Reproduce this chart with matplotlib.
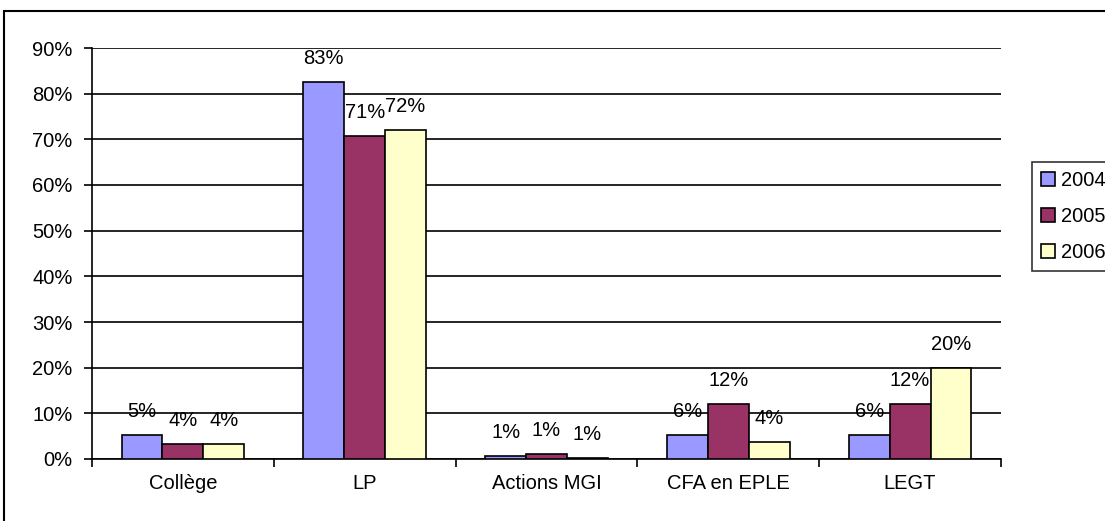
import numpy as np
import matplotlib.pyplot as plt
from matplotlib.patches import Rectangle
from matplotlib.ticker import PercentFormatter

plt.rcParams['font.family'] = ['Liberation Sans', 'DejaVu Sans']

# Data
categories = ['Collège', 'LP', 'Actions MGI', 'CFA en EPLE', 'LEGT']
years = ['2004', '2005', '2006']
v2004 = [5.3, 82.5, 0.7, 5.3, 5.3]
v2005 = [3.3, 70.8, 1.2, 12.0, 12.0]
v2006 = [3.3, 72.0, 0.3, 3.7, 20.0]
labels2004 = ['5%', '83%', '1%', '6%', '6%']
labels2005 = ['4%', '71%', '1%', '12%', '12%']
labels2006 = ['4%', '72%', '1%', '4%', '20%']
colors = ['#9999FF', '#993366', '#FFFFCC']

fs = 14.5

fig = plt.figure(figsize=(11.05, 5.21), dpi=100)
ax = fig.add_axes([92 / 1105, 62 / 521, 909 / 1105, 411 / 521])

# outer chart border
fig.patches.append(Rectangle((4 / 1105, -0.1), 1.2, (510 / 521) + 0.1,
                             transform=fig.transFigure, fill=False,
                             edgecolor='black', linewidth=1.5, zorder=0))

x = np.arange(len(categories))
w = 0.225
series = [v2004, v2005, v2006]
labs = [labels2004, labels2005, labels2006]
for i, (vals, lab) in enumerate(zip(series, labs)):
    bars = ax.bar(x + (i - 1) * w, vals, w, color=colors[i], edgecolor='black',
                  linewidth=1.2, label=years[i], zorder=3)
    for b, t in zip(bars, lab):
        ax.annotate(t, (b.get_x() + b.get_width() / 2, b.get_height()),
                    xytext=(0, 10), textcoords='offset points',
                    ha='center', va='bottom', fontsize=fs, zorder=4)

ax.set_ylim(0, 90)
ax.set_yticks(np.arange(0, 91, 10))
ax.yaxis.set_major_formatter(PercentFormatter(decimals=0))
ax.yaxis.grid(True, color='black', linewidth=1.2, zorder=0)
ax.set_xlim(-0.5, len(categories) - 0.5)
ax.set_xticks(x)
ax.set_xticklabels(categories)
ax.set_xticks(np.arange(-0.5, len(categories), 1), minor=True)
ax.tick_params(axis='x', which='major', length=0, pad=11, labelsize=fs)
ax.tick_params(axis='x', which='minor', length=6, width=1.2, direction='out')
ax.tick_params(axis='y', length=6, width=1.2, labelsize=fs, pad=8)
for s in ['top', 'right']:
    ax.spines[s].set_visible(False)
ax.spines['left'].set_linewidth(1.2)
ax.spines['bottom'].set_linewidth(1.2)

leg = fig.legend(loc='upper left', bbox_to_anchor=(1032 / 1105, 1 - 162 / 521),
                 fontsize=fs, frameon=True, fancybox=False, edgecolor='black',
                 handlelength=0.7, handleheight=0.7, handletextpad=0.3,
                 labelspacing=0.85, borderpad=0.45, borderaxespad=0)
leg.get_frame().set_linewidth(1.2)

fig.savefig('out.png', dpi=100)
